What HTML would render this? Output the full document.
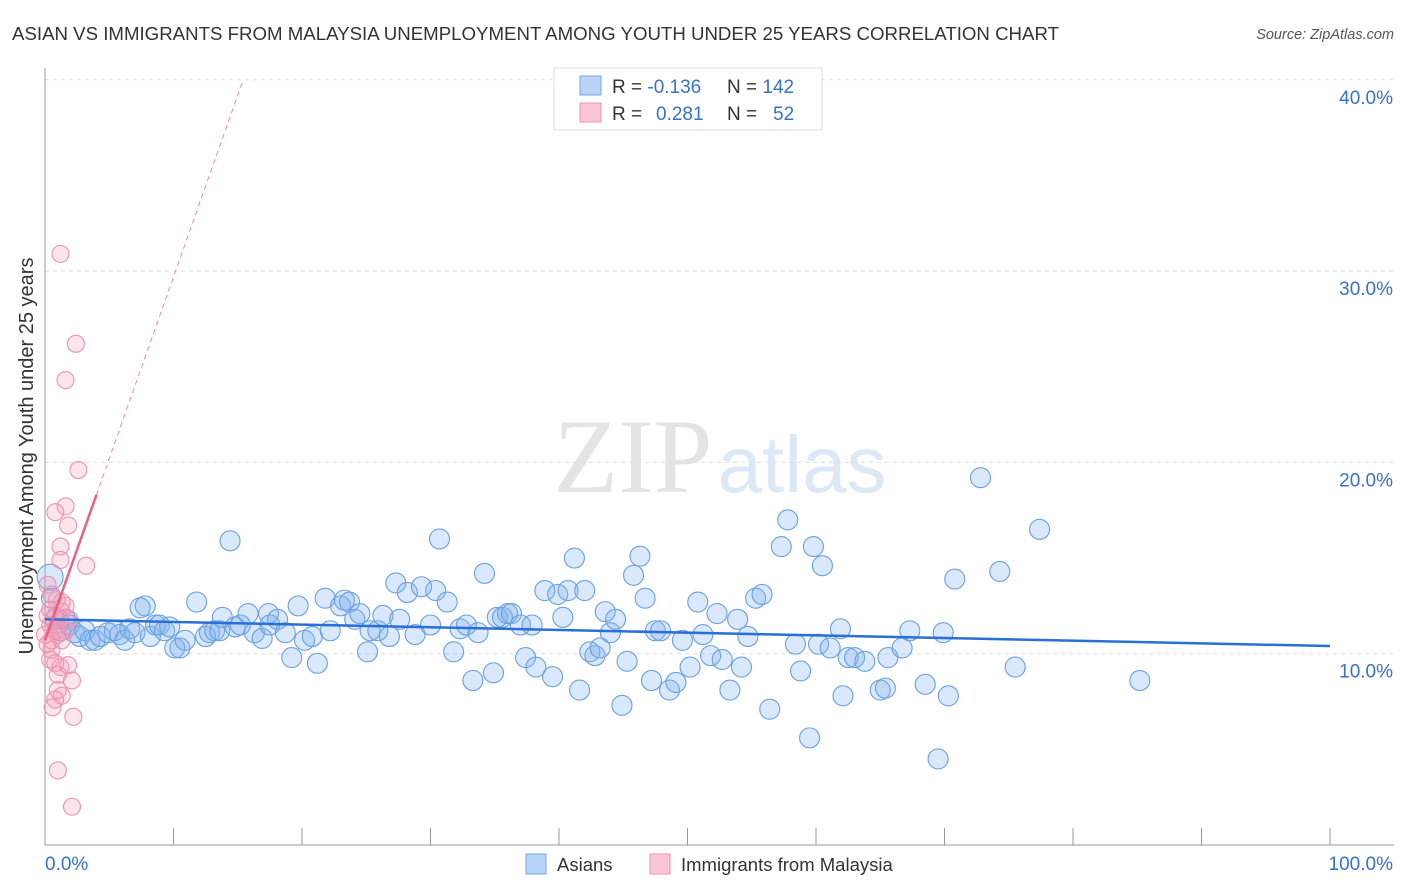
<!DOCTYPE html>
<html><head><meta charset="utf-8"><style>
body{margin:0;background:#fff;font-family:"Liberation Sans",sans-serif;}
svg{display:block}
</style></head><body>
<svg id="chart" width="1406" height="892" viewBox="0 0 1406 892">
<text x="12" y="40" font-size="18" fill="#333" textLength="1047" lengthAdjust="spacingAndGlyphs">ASIAN VS IMMIGRANTS FROM MALAYSIA UNEMPLOYMENT AMONG YOUTH UNDER 25 YEARS CORRELATION CHART</text>
<text x="1394" y="39" font-size="14.5" fill="#555" font-style="italic" text-anchor="end">Source: ZipAtlas.com</text>
<text x="33" y="456" font-size="20" fill="#333" text-anchor="middle" transform="rotate(-90 33 456)">Unemployment Among Youth under 25 years</text>
<text x="633" y="492" font-size="106" fill="#e4e4e4" font-family="Liberation Serif,serif" text-anchor="middle">ZIP</text>
<text x="802" y="492" font-size="80" fill="#dce8f6" text-anchor="middle">atlas</text>
<g id="grid"></g>
<g id="axes"></g>
<g id="pts"></g>
<g id="lines"></g>
<g>
<rect x="554" y="68" width="268" height="62" fill="#fff" stroke="#ddd"/>
<rect x="580" y="76" width="21" height="19" fill="#b8d3f5" stroke="#7aa9e6"/>
<rect x="580" y="103" width="21" height="19" fill="#fac6d5" stroke="#ef94b0"/>
<text x="612" y="93" font-size="19" fill="#333">R = <tspan fill="#3572c9">-0.136</tspan></text>
<text x="727" y="93" font-size="19" fill="#333">N = <tspan fill="#3572c9">142</tspan></text>
<text x="612" y="120" font-size="19" fill="#333">R = <tspan fill="#3572c9" x="656">0.281</tspan></text>
<text x="727" y="120" font-size="19" fill="#333">N = <tspan fill="#3572c9" x="773">52</tspan></text>
</g>
<g>
<rect x="526" y="854" width="20" height="20" fill="#b8d3f5" stroke="#7aa9e6"/>
<text x="557" y="871" font-size="18.5" fill="#333">Asians</text>
<rect x="650" y="854" width="20" height="20" fill="#fac6d5" stroke="#ef94b0"/>
<text x="681" y="871" font-size="18.5" fill="#333">Immigrants from Malaysia</text>
</g>
</svg>
<script>
const xTickLabels=["0.0%","100.0%"];
const yTicks=[10,20,30,40];
const blueX=[0.4,0.5,0.8,1.2,1.6,1.9,2.3,2.7,3.1,3.5,3.9,4.3,4.9,5.4,5.8,6.2,6.6,7.0,7.4,7.8,8.2,8.6,8.9,9.3,9.7,10.1,10.5,10.9,11.8,12.5,12.8,13.2,13.6,13.8,14.4,14.8,15.2,15.8,16.3,16.9,17.4,17.5,18.1,18.7,19.2,19.7,20.2,20.8,21.2,21.8,22.2,23.0,23.3,23.7,24.1,24.5,25.1,25.3,25.9,26.3,26.8,27.3,27.6,28.2,28.8,29.3,30.0,30.4,30.7,31.3,31.8,32.3,32.8,33.3,33.7,34.2,34.9,35.2,35.6,36.0,36.3,37.0,37.4,37.9,38.2,38.9,39.5,39.9,40.3,40.7,41.2,41.6,42.0,42.4,42.8,43.2,43.6,44.0,44.4,44.9,45.3,45.8,46.3,46.7,47.2,47.5,47.9,48.6,49.1,49.6,50.2,50.8,51.2,51.8,52.3,52.7,53.3,53.9,54.2,54.7,55.3,55.8,56.4,57.3,57.8,58.4,58.8,59.5,59.8,60.2,60.5,61.1,61.9,62.1,62.5,63.0,63.8,65.0,65.4,65.6,66.7,67.3,68.5,69.5,69.9,70.3,70.8,72.8,74.3,75.5,77.4,85.2];
const blueY=[14.0,12.9,11.8,11.2,11.8,11.5,11.1,10.9,11.2,10.7,10.7,10.9,11.1,11.2,11.0,10.7,11.3,11.1,12.4,12.5,10.9,11.5,11.5,11.2,11.4,10.3,10.3,10.7,12.7,10.9,11.1,11.2,11.2,11.9,15.9,11.4,11.5,12.1,11.1,10.8,12.1,11.5,11.8,11.1,9.8,12.5,10.7,10.9,9.5,12.9,11.2,12.5,12.8,12.7,11.8,12.1,10.1,11.2,11.2,12.0,10.9,13.7,11.8,13.2,11.0,13.5,11.5,13.3,16.0,12.7,10.1,11.3,11.5,8.6,11.1,14.2,9.0,11.9,11.9,12.1,12.1,11.5,9.8,11.5,9.3,13.3,8.8,13.1,11.9,13.3,15.0,8.1,13.3,10.1,9.9,10.3,12.2,11.1,11.8,7.3,9.6,14.1,15.1,12.9,8.6,11.2,11.2,8.1,8.5,10.7,9.3,12.7,11.0,9.9,12.1,9.7,8.1,11.8,9.3,10.9,12.9,13.1,7.1,15.6,17.0,10.5,9.1,5.6,15.6,10.5,14.6,10.3,11.3,7.8,9.8,9.8,9.6,8.1,8.2,9.8,10.3,11.2,8.4,4.5,11.1,7.8,13.9,19.2,14.3,9.3,16.5,8.6];
const pinkX=[1.2,2.4,1.6,2.6,1.6,0.8,1.8,1.2,1.2,3.2,0.2,0.5,0.9,1.3,1.6,0.4,0.8,1.2,0.4,0.8,1.0,1.3,0.2,0.5,0.4,0.8,1.2,1.8,1.0,2.1,1.0,1.3,0.8,0.6,2.2,1.0,2.1,0.2,0.5,0.0,1.3,1.6,1.9];
const pinkY=[30.9,26.2,24.3,19.6,17.7,17.4,16.7,15.6,14.9,14.6,13.6,13.1,12.8,12.7,12.5,12.3,12.0,11.8,11.5,11.2,11.0,10.7,10.5,10.2,9.7,9.5,9.3,9.4,8.9,8.6,8.1,7.8,7.6,7.2,6.7,3.9,2.0,12.0,10.7,11.0,12.2,11.2,11.8];
const blueTrend=[11.8,10.4];
const pinkTrend=[10.7,1.9];
const NS="http://www.w3.org/2000/svg";
const sx=v=>45+v*12.85, sy=v=>845-v*19.13;
function mk(parent,tag,attrs){const e=document.createElementNS(NS,tag);for(const k in attrs)e.setAttribute(k,attrs[k]);document.getElementById(parent).appendChild(e);return e;}
yTicks.forEach(t=>{
 const l=mk('grid','line',{x1:45,x2:1394,y1:sy(t),y2:sy(t),stroke:'#ddd','stroke-dasharray':'4,4'});
 
 
 const tx=mk('grid','text',{x:1393,y:sy(t)+24,'font-size':19,fill:'#3572c9','text-anchor':'end'});
 tx.textContent=t.toFixed(1)+'%';
 
 
});
const ax=mk('axes','line',{x1:45,x2:45,y1:68,y2:845,stroke:'#999'});


const bx=mk('axes','line',{x1:45,x2:1394,y1:845,y2:845,stroke:'#999'});


for(let i=0;i<=10;i++){
 const t=mk('axes','line',{x1:sx(i*10),x2:sx(i*10),y1:828,y2:845,stroke:'#999'});
 
 
}
const xl0=mk('axes','text',{x:45,y:870,'font-size':19,fill:'#3572c9'});
xl0.textContent=xTickLabels[0];


const xl1=mk('axes','text',{x:1393,y:870,'font-size':19,fill:'#3572c9','text-anchor':'end'});
xl1.textContent=xTickLabels[1];


blueX.forEach((x,i)=>{
 const c=mk('pts','circle',{cx:sx(x),cy:sy(blueY[i]),r:(i===0?13:10),fill:'rgba(130,180,240,0.3)',stroke:'#6aa0e0','stroke-width':1.1});
 
 
});
pinkX.forEach((x,i)=>{
 const c=mk('pts','circle',{cx:sx(x),cy:sy(pinkY[i]),r:8.5,fill:'rgba(245,150,180,0.25)',stroke:'#f093b0','stroke-width':1.1});
 
 
});
const bl=mk('lines','line',{x1:sx(0),x2:sx(100),y1:sy(blueTrend[0]),y2:sy(blueTrend[1]),stroke:'#2a6fd6','stroke-width':2.5});


const xEnd=(40-pinkTrend[0])/pinkTrend[1];
const pd=mk('lines','line',{x1:sx(4),x2:sx(xEnd),y1:sy(pinkTrend[0]+4*pinkTrend[1]),y2:sy(40),stroke:'#ee8aa9','stroke-width':1,'stroke-dasharray':'5,4'});


const ps=mk('lines','line',{x1:sx(0),x2:sx(4),y1:sy(pinkTrend[0]),y2:sy(pinkTrend[0]+4*pinkTrend[1]),stroke:'#e8608a','stroke-width':2.5});


</script>
</body></html>
